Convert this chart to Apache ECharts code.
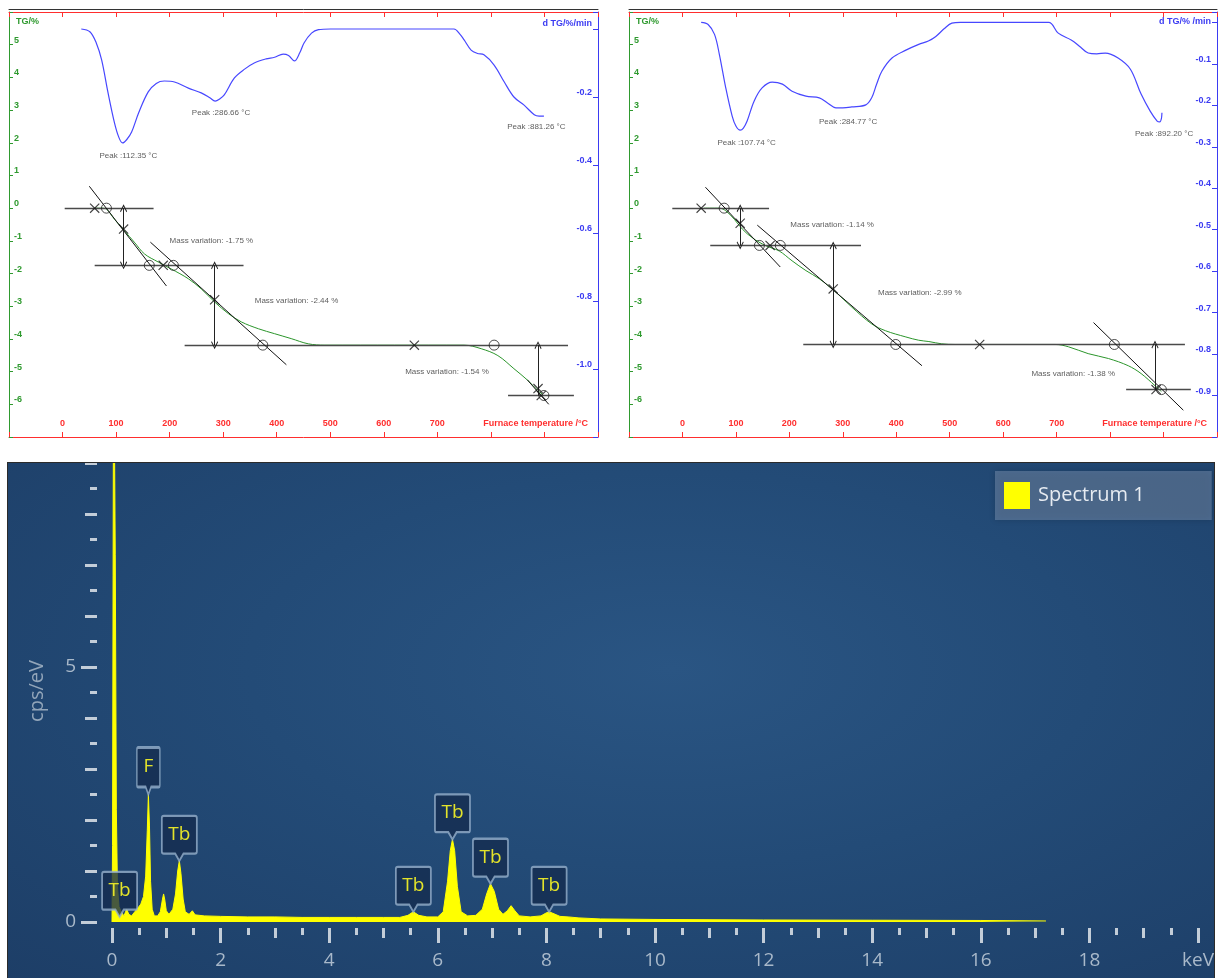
<!DOCTYPE html>
<html>
<head>
<meta charset="utf-8">
<script src="https://cdn.jsdelivr.net/npm/echarts@6/dist/echarts.min.js"></script>
<style>
  body { margin: 0; background: #fff; width: 1222px; height: 978px; position: relative; overflow: hidden; }
  #tgA { position: absolute; left: 0; top: 0; width: 612px; height: 445px; }
  #tgB { position: absolute; left: 620px; top: 0; width: 602px; height: 445px; }
  #eds { position: absolute; left: 8px; top: 463px; width: 1206px; height: 515px; box-shadow: 0 0 0 1px #2b2b2b;
         background: radial-gradient(ellipse at 55% 40%, #2a5583 0%, #234b77 45%, #1d3e67 100%); }
</style>
</head>
<body>
<div id="tgA"></div>
<div id="tgB"></div>
<div id="eds"></div>
<script>
// ---------------- sample A (left) : [temperature °C, value]
const tgA = [[60,0],[73,0],[82,-0.03],[97,-0.34],[116,-0.70],[134,-1.04],[153,-1.40],[179,-1.65],[203,-1.86],[235,-2.16],[259,-2.47],[284,-2.87],[310,-3.23],[334,-3.48],[366,-3.69],[396,-3.84],[427,-3.99],[459,-4.15],[490,-4.19],[750,-4.19],[782,-4.30],[813,-4.51],[843,-4.91],[869,-5.27],[888,-5.58],[897,-5.70]]
const dtgA = [[35,0],[51,-0.008],[63,-0.041],[73,-0.091],[85,-0.188],[97,-0.276],[105,-0.318],[112,-0.335],[120,-0.325],[129,-0.303],[142,-0.247],[160,-0.185],[175,-0.160],[190,-0.153],[209,-0.156],[235,-0.174],[259,-0.188],[275,-0.202],[285,-0.212],[294,-0.205],[302,-0.194],[321,-0.144],[340,-0.118],[358,-0.100],[380,-0.088],[396,-0.083],[412,-0.074],[422,-0.078],[433,-0.094],[443,-0.070],[451,-0.041],[465,-0.012],[478,-0.002],[500,0],[731,0],[742,-0.015],[750,-0.032],[763,-0.062],[775,-0.072],[787,-0.076],[806,-0.106],[825,-0.156],[843,-0.200],[862,-0.224],[881,-0.252],[890,-0.256],[899,-0.256]]
const levelsA = [[4,170,0],[60,338,-1.75],[228,944,-4.19],[832,955,-5.73]]
const tangentsA = [[[50,0.67],[194,-2.38]],[[164,-1.04],[418,-4.79]],[[868,-5.25],[908,-6.0]]]
const arrowsA = [[114,0,-1.75,'both'],[284,-1.75,-4.19,'both'],[888,-4.19,-5.73,'up']]
const crossA = [[60,0],[114,-0.64],[188,-1.75],[284,-2.80],[657,-4.19],[888,-5.52],[894,-5.73]]
const circleA = [[82,0],[162,-1.75],[207,-1.75],[374,-4.19],[806,-4.19],[899,-5.73]]
const peaksA = [[123,-0.374,'Peak :112.35 °C'],[296,-0.247,'Peak :286.66 °C'],[885,-0.288,'Peak :881.26 °C']]
const massA = [[278,-1.0,'Mass variation: -1.75 %'],[437,-2.84,'Mass variation: -2.44 %'],[718,-5.0,'Mass variation: -1.54 %']]

// ---------------- sample B (right)
const tgB = [[40,0],[69,0],[81,-0.08],[97,-0.34],[112,-0.64],[131,-0.91],[156,-1.15],[181,-1.31],[205,-1.61],[231,-1.91],[256,-2.16],[287,-2.57],[317,-3.03],[354,-3.54],[380,-3.75],[418,-3.94],[442,-4.04],[461,-4.08],[485,-4.15],[510,-4.17],[698,-4.17],[722,-4.24],[759,-4.45],[797,-4.60],[834,-4.82],[858,-5.06],[884,-5.43],[896,-5.61]]
const dtgB = [[35,0],[48,-0.005],[60,-0.029],[69,-0.077],[81,-0.158],[93,-0.226],[100,-0.250],[108,-0.260],[114,-0.255],[121,-0.238],[134,-0.190],[149,-0.158],[168,-0.144],[187,-0.149],[205,-0.166],[231,-0.178],[256,-0.182],[272,-0.195],[287,-0.206],[300,-0.206],[317,-0.204],[343,-0.199],[354,-0.182],[363,-0.150],[373,-0.118],[392,-0.086],[418,-0.067],[442,-0.053],[460,-0.045],[474,-0.034],[490,-0.015],[504,-0.002],[520,0],[685,0],[703,-0.026],[728,-0.043],[745,-0.060],[759,-0.074],[775,-0.076],[791,-0.074],[815,-0.086],[838,-0.113],[858,-0.173],[875,-0.214],[888,-0.238],[893,-0.240],[896,-0.232],[897,-0.218]]
const levelsB = [[-19,162,0],[52,334,-1.14],[226,940,-4.17],[830,951,-5.55]]
const tangentsB = [[[43,0.64],[183,-1.8]],[[140,-0.52],[448,-4.82]],[[769,-3.5],[937,-6.18]]]
const arrowsB = [[108,0,-1.14,'both'],[282,-1.14,-4.17,'both'],[884,-4.17,-5.55,'up']]
const crossB = [[35,0],[108,-0.46],[164,-1.14],[282,-2.47],[556,-4.17],[886,-5.55]]
const circleB = [[78,0],[144,-1.14],[183,-1.14],[399,-4.17],[808,-4.17],[896,-5.55]]
const peaksB = [[120,-0.290,'Peak :107.74 °C'],[310,-0.240,'Peak :284.77 °C'],[901,-0.269,'Peak :892.20 °C']]
const massB = [[280,-0.52,'Mass variation: -1.14 %'],[444,-2.59,'Mass variation: -2.99 %'],[731,-5.06,'Mass variation: -1.38 %']]

// ---------------- EDS spectrum : [keV, cps/eV]
const spectrum = [[0,0],[0.01,1.5],[0.02,6.8],[0.03,12],[0.05,12],[0.06,7.2],[0.08,2.2],[0.10,0.7],[0.13,0.3],[0.17,0.2],[0.22,0.12],[0.27,0.25],[0.31,0.15],[0.36,0.12],[0.42,0.2],[0.48,0.28],[0.53,0.35],[0.58,0.5],[0.62,0.9],[0.65,1.8],[0.67,2.5],[0.69,1.9],[0.71,0.8],[0.74,0.25],[0.78,0.12],[0.84,0.12],[0.89,0.2],[0.93,0.45],[0.95,0.55],[0.97,0.45],[1.00,0.22],[1.05,0.15],[1.12,0.25],[1.17,0.55],[1.21,1.0],[1.24,1.2],[1.27,0.95],[1.31,0.45],[1.35,0.2],[1.42,0.15],[1.48,0.22],[1.53,0.14],[1.7,0.12],[2.0,0.11],[2.5,0.1],[3.0,0.1],[3.5,0.09],[4.0,0.09],[4.5,0.09],[5.0,0.09],[5.3,0.09],[5.45,0.13],[5.55,0.2],[5.65,0.13],[5.8,0.1],[6.0,0.1],[6.1,0.2],[6.18,0.8],[6.23,1.4],[6.27,1.62],[6.31,1.4],[6.36,0.7],[6.43,0.2],[6.55,0.12],[6.7,0.13],[6.82,0.25],[6.9,0.55],[6.97,0.75],[7.04,0.6],[7.12,0.25],[7.2,0.15],[7.28,0.22],[7.35,0.32],[7.42,0.22],[7.5,0.12],[7.7,0.1],[7.9,0.12],[8.0,0.18],[8.05,0.2],[8.12,0.17],[8.25,0.11],[8.4,0.1],[8.6,0.08],[9.0,0.06],[10,0.05],[12,0.04],[14,0.035],[16,0.03],[17.2,0.02]]
const edsPeaks = [['Tb',0.14,0.1],['F',0.67,2.5],['Tb',1.24,1.2],['Tb',5.55,0.2],['Tb',6.27,1.62],['Tb',6.97,0.75],['Tb',8.05,0.2]]

const RED = '#ff2e2e'
const GREEN = '#2f9a2f'
const BLUE = '#3b3bf2'
const FONT = 'Liberation Sans'
const CROSS = 'path://M0,0.8 L0.8,0 L10,9.2 L9.2,10 Z M9.2,0 L10,0.8 L0.8,10 L0,9.2 Z'
const HEAD = 'path://M5,0 L10,9 L9,10 L5,2.8 L1,10 L0,9 Z'
const BOX = 'path://M2,0 L32,0 Q34,0 34,2 L34,35 Q34,37 32,37 L21,37 L17,44 L13,37 L2,37 Q0,37 0,35 L0,2 Q0,0 2,0 Z'

function tgOption(p) {
  const marks = []
  p.levels.forEach(h => marks.push([
    { coord: [h[0], h[2]], symbol: 'none', lineStyle: { color: '#4a4a4a', width: 1.4, type: 'solid' } },
    { coord: [h[1], h[2]], symbol: 'none' }
  ]))
  p.tangents.forEach(t => marks.push([
    { coord: t[0], symbol: 'none', lineStyle: { color: '#111', width: 1, type: 'solid' } },
    { coord: t[1], symbol: 'none' }
  ]))
  p.arrows.forEach(a => marks.push([
    { coord: [a[0], a[1]], symbol: HEAD, symbolSize: [7, 8], lineStyle: { color: '#222', width: 1, type: 'solid' } },
    { coord: [a[0], a[2]], symbol: a[3] === 'both' ? HEAD : 'none', symbolSize: [7, 8] }
  ]))

  const textLabel = { show: true, position: 'inside', color: '#333', fontSize: 8, fontFamily: FONT, formatter: d => d.data[2] }

  return {
    animation: false,
    textStyle: { fontFamily: FONT },
    grid: { left: 9, top: 12, width: p.gridW, height: 425, outerBoundsMode: 'none' },
    xAxis: [
      {
        type: 'value', min: -100, max: 1000, interval: 100, position: 'bottom',
        name: 'Furnace temperature /°C', nameLocation: 'end', nameGap: -10,
        nameTextStyle: { color: RED, fontWeight: 'bold', fontSize: 9, align: 'right', verticalAlign: 'bottom', padding: [0, 0, 9, 0] },
        axisLine: { onZero: false, lineStyle: { color: RED } },
        axisTick: { inside: true, length: 5, lineStyle: { color: RED } },
        axisLabel: { inside: true, margin: 9, color: RED, fontWeight: 'bold', fontSize: 9, formatter: v => (v >= 0 && v <= 700) ? String(v) : '' },
        splitLine: { show: false }
      },
      {
        type: 'value', min: -100, max: 1000, interval: 100, position: 'top',
        axisLine: { onZero: false, lineStyle: { color: RED } },
        axisTick: { inside: true, length: 5, lineStyle: { color: RED } },
        axisLabel: { show: false }, splitLine: { show: false }
      },
      {
        type: 'value', min: -100, max: 1000, position: 'top', offset: 3,
        axisLine: { onZero: false, lineStyle: { color: '#333' } },
        axisTick: { show: false }, axisLabel: { show: false }, splitLine: { show: false }
      }
    ],
    yAxis: [
      {
        type: 'value', min: -7, max: 6, interval: 1, position: 'left',
        name: 'TG/%', nameLocation: 'end', nameGap: -10,
        nameTextStyle: { color: GREEN, fontWeight: 'bold', fontSize: 9, align: 'left', verticalAlign: 'middle', padding: [0, 0, 0, 7] },
        axisLine: { onZero: false, lineStyle: { color: GREEN } },
        axisTick: { inside: true, length: 4, lineStyle: { color: GREEN } },
        axisLabel: { inside: true, margin: 5, color: GREEN, fontWeight: 'bold', fontSize: 9, verticalAlign: 'bottom', formatter: v => (v >= -6 && v <= 5) ? String(v) : '' },
        splitLine: { show: false }
      },
      {
        type: 'value', min: p.dMin, max: p.dMax, interval: p.dStep, position: 'right',
        name: p.dName, nameLocation: 'end', nameGap: p.dNameGap,
        nameTextStyle: { color: BLUE, fontWeight: 'bold', fontSize: 9, align: 'right', verticalAlign: 'middle', padding: [0, 6, 0, 0] },
        axisLine: { onZero: false, lineStyle: { color: BLUE } },
        axisTick: { inside: true, length: 5, lineStyle: { color: BLUE } },
        axisLabel: {
          inside: true, margin: 6, color: BLUE, fontWeight: 'bold', fontSize: 9, verticalAlign: 'bottom',
          formatter: v => (v > -1e-6 || v < p.dMin + 1e-6) ? '' : v.toFixed(1)
        },
        splitLine: { show: false }
      }
    ],
    series: [
      {
        type: 'line', data: p.tg, yAxisIndex: 0, smooth: 0.35, symbol: 'none', z: 3,
        lineStyle: { color: '#2b952b', width: 1 },
        markLine: { silent: true, animation: false, label: { show: false }, symbol: 'none', data: marks }
      },
      {
        type: 'line', data: p.dtg, yAxisIndex: 1, smooth: 0.35, symbol: 'none',
        lineStyle: { color: '#4747ff', width: 1.2 }
      },
      {
        type: 'scatter', data: p.cross, yAxisIndex: 0, symbol: CROSS, symbolSize: 10, z: 5,
        itemStyle: { color: '#111' }
      },
      {
        type: 'scatter', data: p.circle, yAxisIndex: 0, symbol: 'circle', symbolSize: 10, z: 5,
        itemStyle: { color: 'rgba(0,0,0,0)', borderColor: '#222', borderWidth: 1 }
      },
      {
        type: 'scatter', data: p.peaks, yAxisIndex: 1, symbolSize: 1,
        itemStyle: { color: 'rgba(0,0,0,0)' }, label: textLabel
      },
      {
        type: 'scatter', data: p.mass, yAxisIndex: 0, symbolSize: 1,
        itemStyle: { color: 'rgba(0,0,0,0)' }, label: textLabel
      }
    ]
  }
}

const chartA = echarts.init(document.getElementById('tgA'))
chartA.setOption(tgOption({
  gridW: 589, tg: tgA, dtg: dtgA, levels: levelsA, tangents: tangentsA, arrows: arrowsA,
  cross: crossA, circle: circleA, peaks: peaksA, mass: massA,
  dMin: -1.2, dMax: 0.05, dStep: 0.2, dName: 'd TG/%/min', dNameGap: -12
}))

const chartB = echarts.init(document.getElementById('tgB'))
chartB.setOption(tgOption({
  gridW: 588, tg: tgB, dtg: dtgB, levels: levelsB, tangents: tangentsB, arrows: arrowsB,
  cross: crossB, circle: circleB, peaks: peaksB, mass: massB,
  dMin: -1.0, dMax: 0.025, dStep: 0.1, dName: 'd TG/% /min', dNameGap: -10
}))

// ---------------- EDS spectrum
const TICK = '#c3cdd8'
const LBL = '#a9b9ca'
const EFONT = 'Open Sans'

function xTicks(interval, len, labels) {
  return {
    type: 'value', min: 0, max: 20, interval: interval, position: 'bottom', offset: 6,
    axisLine: { show: false, onZero: false },
    axisTick: { length: len, lineStyle: { color: TICK, width: 3 } },
    axisLabel: labels ? { margin: 23, color: LBL, fontSize: 19, fontFamily: EFONT, formatter: v => v === 20 ? 'keV' : String(v) } : { show: false },
    splitLine: { show: false }
  }
}
function yTicks(interval, len, labels) {
  const ax = {
    type: 'value', min: 0, max: 10, interval: interval, position: 'left', offset: 15,
    axisLine: { show: false, onZero: false },
    axisTick: { length: len, lineStyle: { color: TICK, width: 3 } },
    axisLabel: labels ? { margin: 21, color: LBL, fontSize: 19, fontFamily: EFONT, formatter: v => (v === 0 || v === 5) ? String(v) : '' } : { show: false },
    splitLine: { show: false }
  }
  if (labels) {
    ax.name = 'cps/eV'
    ax.nameLocation = 'middle'
    ax.nameGap = 50
    // right padding pushes the rotated title a little lower than the axis middle
    ax.nameTextStyle = { color: '#93a6ba', fontSize: 20, fontFamily: EFONT, padding: [0, 48, 0, 0] }
  }
  return ax
}

const chartE = echarts.init(document.getElementById('eds'))
chartE.setOption({
  animation: false,
  grid: { left: 104, top: -51, width: 1086, height: 510, outerBoundsMode: 'none' },
  legend: {
    left: 987, top: 8, padding: [11, 67, 11, 9], itemWidth: 26, itemHeight: 27, icon: 'rect',
    backgroundColor: 'rgba(130,154,184,0.45)', shadowBlur: 6, shadowColor: 'rgba(0,0,0,0.35)',
    textStyle: { color: '#e6ebf1', fontSize: 20, fontFamily: EFONT, padding: [0, 0, 0, 3] },
    data: ['Spectrum 1']
  },
  xAxis: [xTicks(2, 15, true), xTicks(1, 10, false), xTicks(0.5, 7, false)],
  yAxis: [yTicks(5, 16, true), yTicks(1, 12, false), yTicks(0.5, 7, false)],
  series: [
    {
      name: 'Spectrum 1', type: 'line', data: spectrum, symbol: 'none',
      itemStyle: { color: '#ffff00' },
      lineStyle: { color: '#ffff00', width: 1 },
      areaStyle: { color: '#ffff00', opacity: 1 },
      markPoint: {
        silent: true, symbol: BOX, symbolOffset: [0, '-50%'],
        itemStyle: { color: 'rgba(20,44,78,0.78)', borderColor: 'rgba(150,176,204,0.8)', borderWidth: 2 },
        label: { show: true, position: 'inside', offset: [0, -4], color: '#e3e32a', fontSize: 19, fontFamily: EFONT, formatter: d => d.name },
        data: edsPeaks.map(p => ({ name: p[0], coord: [p[1], p[2]], symbolSize: p[0] === 'F' ? [23, 47] : [35, 45] }))
      }
    }
  ]
})

window.addEventListener('resize', () => {
  chartA.resize()
  chartB.resize()
  chartE.resize()
})
</script>
</body>
</html>
